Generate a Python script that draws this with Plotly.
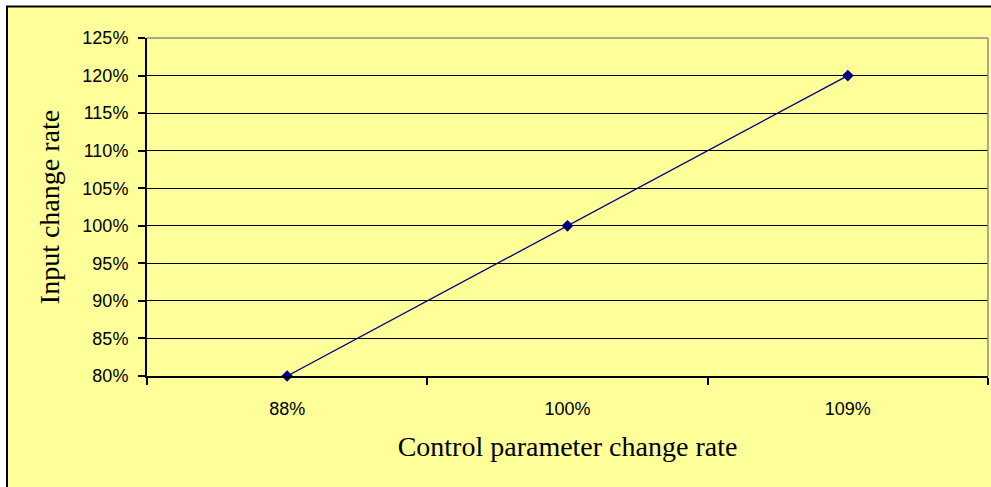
import plotly.graph_objects as go

# Category axis: rate of change of the control parameter
control_rate = ["88%", "100%", "109%"]
# Resulting rate of change of the input
input_rate = [0.80, 1.00, 1.20]

y_ticks = [0.80, 0.85, 0.90, 0.95, 1.00, 1.05, 1.10, 1.15, 1.20, 1.25]

W, H = 991, 487
L, R, T, B = 147, 3, 38, 111
pw, ph = W - L - R, H - T - B


def px_x(px):
    return (px - L) / pw


def px_y(py):
    return (H - B - py) / ph


yellow = "#FFFF99"
navy = "#000080"

fig = go.Figure(
    go.Scatter(
        x=control_rate,
        y=input_rate,
        mode="lines+markers",
        line=dict(color=navy, width=1.3),
        marker=dict(symbol="diamond", size=9, color=navy),
        cliponaxis=False,
        showlegend=False,
    )
)

fig.update_layout(
    width=W,
    height=H,
    margin=dict(l=L, r=R, t=T, b=B),
    paper_bgcolor="white",
    plot_bgcolor=yellow,
    font=dict(family="Liberation Sans, Arial", size=18, color="black"),
    xaxis=dict(
        type="category",
        range=[-0.5, 2.5],
        tickson="boundaries",
        ticks="outside",
        ticklen=7,
        tickwidth=1.5,
        tickcolor="black",
        showgrid=False,
        showline=True,
        linecolor="black",
        linewidth=2,
        tickfont=dict(size=18),
        ticklabelstandoff=15,
        title=dict(
            text="Control parameter change rate",
            font=dict(family="Liberation Serif, Times New Roman", size=28),
            standoff=19,
        ),
        zeroline=False,
    ),
    yaxis=dict(
        range=[0.80, 1.25],
        tickvals=y_ticks,
        tickformat=".0%",
        ticks="outside",
        ticklen=7,
        tickwidth=1.5,
        tickcolor="black",
        showgrid=True,
        gridcolor="black",
        gridwidth=1.3,
        showline=True,
        linecolor="black",
        linewidth=2,
        tickfont=dict(size=18),
        ticklabelstandoff=6,
        title=dict(
            text="Input change rate",
            font=dict(family="Liberation Serif, Times New Roman", size=28),
            standoff=15,
        ),
        zeroline=False,
    ),
    shapes=[
        # chart background with its frame
        dict(
            type="rect", xref="paper", yref="paper",
            x0=px_x(7), x1=px_x(W + 10), y0=px_y(H + 10), y1=px_y(6.5),
            fillcolor=yellow, line=dict(color="black", width=2), layer="below",
        ),
        # plot-area border on the top and right edges
        dict(
            type="line", xref="paper", yref="paper",
            x0=0, x1=1, y0=1, y1=1,
            line=dict(color="#8c8c8c", width=1.5), layer="above",
        ),
        dict(
            type="line", xref="paper", yref="paper",
            x0=1, x1=1, y0=0, y1=1,
            line=dict(color="#8c8c8c", width=1.5), layer="above",
        ),
    ],
)

fig.write_html("out.html")
